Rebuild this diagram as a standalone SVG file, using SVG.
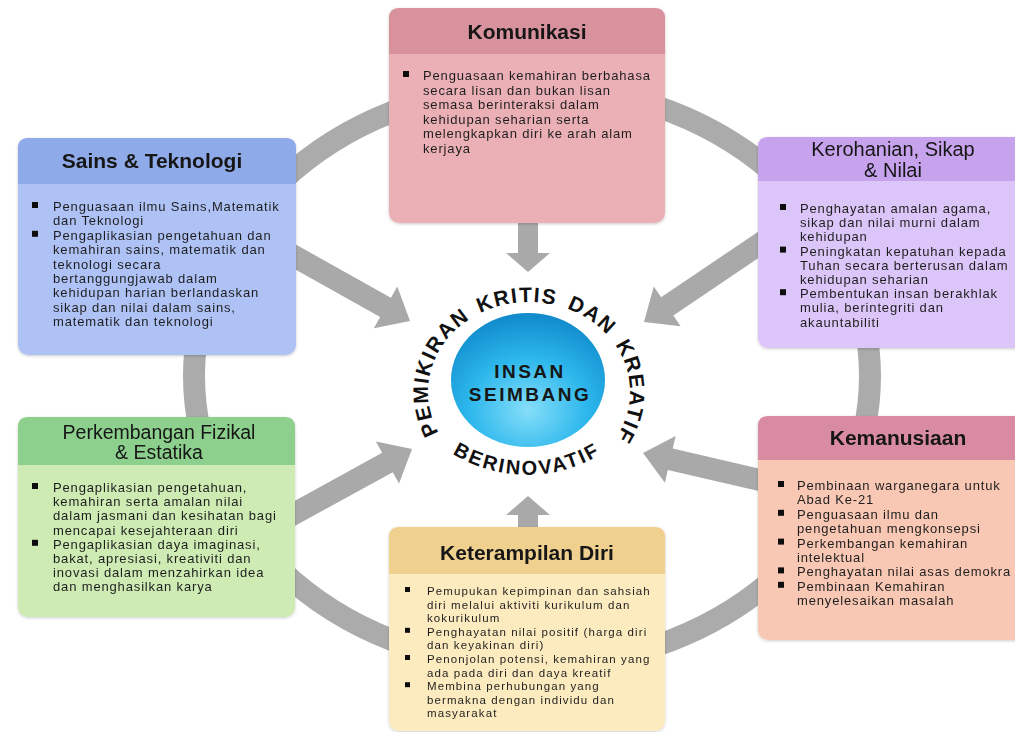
<svg xmlns="http://www.w3.org/2000/svg" width="1015" height="732" viewBox="0 0 1015 732">
<style>
.t{font-family:"Liberation Sans",Arial,sans-serif;fill:#161616;text-anchor:middle}
.tb{font-weight:bold;font-size:21px}
.tr{font-size:20px}
.b{font-family:"Liberation Sans",Arial,sans-serif;font-size:13px;letter-spacing:0.85px;fill:#1f1f1f}
.bs{font-family:"Liberation Sans",Arial,sans-serif;font-size:11.5px;letter-spacing:1.1px;fill:#1f1f1f}
.bul{fill:#111}
.arr{fill:#a9a9a9}
.arc{font-family:"Liberation Sans",Arial,sans-serif;font-weight:bold;fill:#111}
.w{font-size:21px;letter-spacing:1.5px}
</style>
<defs>
<radialGradient id="sph" cx="50%" cy="72%" r="70%">
<stop offset="0" stop-color="#86def9"/>
<stop offset="0.55" stop-color="#2cb7ec"/>
<stop offset="1" stop-color="#128ccd"/>
</radialGradient>
<filter id="sh" x="-5%" y="-5%" width="110%" height="110%">
<feDropShadow dx="0" dy="1" stdDeviation="1.5" flood-color="#000" flood-opacity="0.2"/>
</filter>
<path id="arcTop" d="M441.5,437 A101,90 0 1 1 616.5,437"/>
<path id="arcBot" d="M440,445 A142,142 0 0 0 614,445"/>
</defs>
<rect width="1015" height="732" fill="#fff"/>

<g id="connectors">
<ellipse cx="532" cy="376" rx="338" ry="290" fill="none" stroke="#ababab" stroke-width="22"/>
<path class="arr" transform="translate(528,272) rotate(90)" d="M0,0 L-19,-22 L-19,-10 L-62,-10 L-62,10 L-19,10 L-19,22 Z"/>
<path class="arr" transform="translate(528,496) rotate(-90)" d="M0,0 L-19,-22 L-19,-10 L-42,-10 L-42,10 L-19,10 L-19,22 Z"/>
<path class="arr" transform="translate(410,321) rotate(29.2)" d="M0,0 L-28,-24 L-28,-11 L-140,-11 L-140,11 L-28,11 L-28,24 Z"/>
<path class="arr" transform="translate(644,322) rotate(146)" d="M0,0 L-28,-24 L-28,-11 L-150,-11 L-150,11 L-28,11 L-28,24 Z"/>
<path class="arr" transform="translate(412,449) rotate(-28.8)" d="M0,0 L-28,-24 L-28,-11 L-142,-11 L-142,11 L-28,11 L-28,24 Z"/>
<path class="arr" transform="translate(643,453) rotate(193)" d="M0,0 L-28,-24 L-28,-11 L-128,-11 L-128,11 L-28,11 L-28,24 Z"/>
</g>

<g id="komunikasi" filter="url(#sh)">
<rect x="389" y="8" width="276" height="215" rx="10" fill="#eab0b6"/>
<path d="M389,54 L389,18 Q389,8 399,8 L655,8 Q665,8 665,18 L665,54 Z" fill="#d8929e"/>
<text class="t tb" x="527" y="39">Komunikasi</text>
<rect class="bul" x="403" y="71" width="6" height="6"/>
<text class="b"><tspan x="423" y="80">Penguasaan kemahiran berbahasa</tspan><tspan x="423" y="94.5">secara lisan dan bukan lisan</tspan><tspan x="423" y="109">semasa berinteraksi dalam</tspan><tspan x="423" y="123.5">kehidupan seharian serta</tspan><tspan x="423" y="138">melengkapkan diri ke arah alam</tspan><tspan x="423" y="152.5">kerjaya</tspan></text>
</g>

<g id="sains" filter="url(#sh)">
<rect x="18" y="138" width="278" height="217" rx="10" fill="#aec2f6"/>
<path d="M18,184 L18,148 Q18,138 28,138 L286,138 Q296,138 296,148 L296,184 Z" fill="#8faae8"/>
<text class="t tb" x="152" y="168" fill="#121a36">Sains &amp; Teknologi</text>
<rect class="bul" x="32" y="202" width="6" height="6"/>
<rect class="bul" x="32" y="230.8" width="6" height="6"/>
<text class="b"><tspan x="53" y="211">Penguasaan ilmu Sains,Matematik</tspan><tspan x="53" y="225.4">dan Teknologi</tspan><tspan x="53" y="239.8">Pengaplikasian pengetahuan dan</tspan><tspan x="53" y="254.2">kemahiran sains, matematik dan</tspan><tspan x="53" y="268.6">teknologi secara</tspan><tspan x="53" y="283">bertanggungjawab dalam</tspan><tspan x="53" y="297.4">kehidupan harian berlandaskan</tspan><tspan x="53" y="311.8">sikap dan nilai dalam sains,</tspan><tspan x="53" y="326.2">matematik dan teknologi</tspan></text>
</g>

<g id="kerohanian" filter="url(#sh)">
<rect x="758" y="137" width="270" height="211" rx="10" fill="#dcc5f8"/>
<path d="M758,181 L758,147 Q758,137 768,137 L1018,137 Q1028,137 1028,147 L1028,181 Z" fill="#c6a3ec"/>
<text class="t tr" x="893" y="156">Kerohanian, Sikap</text>
<text class="t tr" x="893" y="177">&amp; Nilai</text>
<rect class="bul" x="780" y="204" width="6" height="6"/>
<rect class="bul" x="780" y="246.6" width="6" height="6"/>
<rect class="bul" x="780" y="289.2" width="6" height="6"/>
<text class="b"><tspan x="800" y="213">Penghayatan amalan agama,</tspan><tspan x="800" y="227.2">sikap dan nilai  murni dalam</tspan><tspan x="800" y="241.4">kehidupan</tspan><tspan x="800" y="255.6">Peningkatan kepatuhan kepada</tspan><tspan x="800" y="269.8">Tuhan secara berterusan dalam</tspan><tspan x="800" y="284">kehidupan seharian</tspan><tspan x="800" y="298.2">Pembentukan insan berakhlak</tspan><tspan x="800" y="312.4">mulia, berintegriti dan</tspan><tspan x="800" y="326.6">akauntabiliti</tspan></text>
</g>

<g id="perkembangan" filter="url(#sh)">
<rect x="18" y="417" width="277" height="200" rx="10" fill="#cdebb3"/>
<path d="M18,465 L18,427 Q18,417 28,417 L285,417 Q295,417 295,427 L295,465 Z" fill="#8dcf8d"/>
<text class="t" font-size="19.5" x="159" y="439">Perkembangan Fizikal</text>
<text class="t" font-size="19.5" x="159" y="459">&amp; Estatika</text>
<rect class="bul" x="32" y="483" width="6" height="6"/>
<rect class="bul" x="32" y="539.8" width="6" height="6"/>
<text class="b"><tspan x="53" y="492">Pengaplikasian pengetahuan,</tspan><tspan x="53" y="506.2">kemahiran serta amalan nilai</tspan><tspan x="53" y="520.4">dalam jasmani dan kesihatan bagi</tspan><tspan x="53" y="534.6">mencapai kesejahteraan diri</tspan><tspan x="53" y="548.8">Pengaplikasian daya imaginasi,</tspan><tspan x="53" y="563">bakat, apresiasi, kreativiti dan</tspan><tspan x="53" y="577.2">inovasi dalam menzahirkan idea</tspan><tspan x="53" y="591.4">dan menghasilkan karya</tspan></text>
</g>

<g id="kemanusiaan" filter="url(#sh)">
<rect x="758" y="416" width="270" height="224" rx="10" fill="#f9c8b4"/>
<path d="M758,460 L758,426 Q758,416 768,416 L1018,416 Q1028,416 1028,426 L1028,460 Z" fill="#d98ba1"/>
<text class="t tb" x="898" y="445">Kemanusiaan</text>
<rect class="bul" x="778" y="481" width="6" height="6"/>
<rect class="bul" x="778" y="509.8" width="6" height="6"/>
<rect class="bul" x="778" y="538.6" width="6" height="6"/>
<rect class="bul" x="778" y="567.4" width="6" height="6"/>
<rect class="bul" x="778" y="581.8" width="6" height="6"/>
<text class="b"><tspan x="797" y="490">Pembinaan warganegara untuk</tspan><tspan x="797" y="504.4">Abad Ke-21</tspan><tspan x="797" y="518.8">Penguasaan ilmu dan</tspan><tspan x="797" y="533.2">pengetahuan mengkonsepsi</tspan><tspan x="797" y="547.6">Perkembangan kemahiran</tspan><tspan x="797" y="562">intelektual</tspan><tspan x="797" y="576.4">Penghayatan nilai asas demokra</tspan><tspan x="797" y="590.8">Pembinaan Kemahiran</tspan><tspan x="797" y="605.2">menyelesaikan masalah</tspan></text>
</g>

<g id="keterampilan" filter="url(#sh)">
<rect x="389" y="527" width="276" height="204" rx="10" fill="#fdebc0"/>
<path d="M389,574 L389,537 Q389,527 399,527 L655,527 Q665,527 665,537 L665,574 Z" fill="#efd08e"/>
<text class="t tb" x="527" y="560">Keterampilan Diri</text>
<rect class="bul" x="405" y="587" width="5" height="5"/>
<rect class="bul" x="405" y="627.8" width="5" height="5"/>
<rect class="bul" x="405" y="655" width="5" height="5"/>
<rect class="bul" x="405" y="682.2" width="5" height="5"/>
<text class="bs"><tspan x="427" y="595">Pemupukan kepimpinan dan  sahsiah</tspan><tspan x="427" y="608.6">diri melalui aktiviti  kurikulum dan</tspan><tspan x="427" y="622.2">kokurikulum</tspan><tspan x="427" y="635.8">Penghayatan nilai positif (harga diri</tspan><tspan x="427" y="649.4">dan keyakinan diri)</tspan><tspan x="427" y="663">Penonjolan potensi, kemahiran yang</tspan><tspan x="427" y="676.6">ada pada diri dan daya kreatif</tspan><tspan x="427" y="690.2">Membina perhubungan yang</tspan><tspan x="427" y="703.8">bermakna dengan individu dan</tspan><tspan x="427" y="717.4">masyarakat</tspan></text>
</g>

<g id="insan-seimbang">
<ellipse cx="528" cy="380" rx="77" ry="67" fill="url(#sph)"/>
<text class="t" font-weight="bold" font-size="19" letter-spacing="2.5" fill="#17263f" x="530" y="378">INSAN</text>
<text class="t" font-weight="bold" font-size="19" letter-spacing="2.5" fill="#17263f" x="530" y="401">SEIMBANG</text>
</g>

<g id="arc-labels">
<text class="arc w"><textPath href="#arcTop" startOffset="5">PEMIKIRAN</textPath></text>
<text class="arc w"><textPath href="#arcTop" startOffset="147">KRITIS</textPath></text>
<text class="arc w"><textPath href="#arcTop" startOffset="236">DAN</textPath></text>
<text class="arc w"><textPath href="#arcTop" startOffset="297">KREATIF</textPath></text>
<text class="arc" font-size="20" letter-spacing="2.2" text-anchor="middle"><textPath href="#arcBot" startOffset="50%">BERINOVATIF</textPath></text>
</g>
</svg>
